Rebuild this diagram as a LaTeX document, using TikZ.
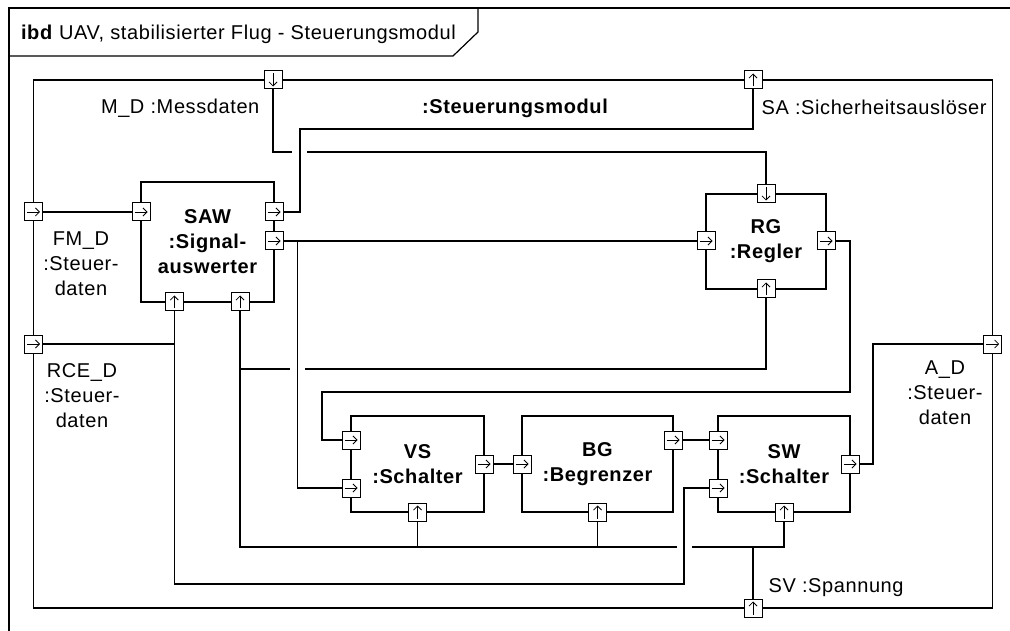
\documentclass[tikz,border=0pt]{standalone}
\usepackage{fontspec}
\setmainfont{Liberation Sans}[LetterSpace=3]
\usetikzlibrary{positioning,arrows.meta}
\newcommand\portR[2]{\node[port] (#1) at (#2) {}; \draw[pin] (#1.west) -- (#1.east);}
\newcommand\portU[2]{\node[port] (#1) at (#2) {}; \draw[pin] (#1.south) -- (#1.north);}
\newcommand\portD[2]{\node[port] (#1) at (#2) {}; \draw[pin] (#1.north) -- (#1.south);}

\begin{document}
\begin{tikzpicture}[x=1pt,y=-1pt,line width=1.2pt,font=\fontsize{20}{25}\selectfont,
 block/.style={draw,align=center,inner sep=0pt,font=\fontsize{20}{25}\selectfont\bfseries},
 port/.style={draw,fill=white,minimum size=18pt,inner sep=0pt,line width=1pt},
 pin/.style={-{Straight Barb[length=4pt,width=8pt]},line width=.8pt,shorten <=3pt,shorten >=3pt},
 lbl/.style={inner sep=0pt,align=center}]
\useasboundingbox (0,0) rectangle (1010,631);
% frame and header
\draw (9,631) -- (9,8) -- (1010,8);
\draw (9,56) -- (453,56) -- (478,32) -- (478,8);
\node[lbl,anchor=base west] (title) at (20.5,39.3) {\textbf{ibd} UAV, stabilisierter Flug - Steuerungsmodul};
\node[draw,line width=1.3pt,minimum width=959.2pt,minimum height=528pt] (sm) at (513.1,344) {};
% parts
\node[block,minimum width=133pt,minimum height=120pt] (saw) at (207.5,242) {SAW\\:Signal-\\auswerter};
\node[block,minimum width=120pt,minimum height=95pt] (rg) at (766,241.5) {RG\\:Regler};
\node[block,minimum width=133pt,minimum height=96pt] (vs) at (417.5,464) {VS\\:Schalter};
\node[block,minimum width=151pt,minimum height=96pt] (bg) at (597.5,464) {BG\\:Begrenzer};
\node[block,minimum width=132pt,minimum height=96pt] (sw) at (784,464) {SW\\:Schalter};
% labels
\node[lbl,anchor=north east] (mdlbl) at (260,98.5) {M\_D :Messdaten};
\node[lbl,anchor=north,font=\fontsize{20}{25}\selectfont\bfseries] (smlbl) at (515,98.5) {:Steuerungsmodul};
\node[lbl,anchor=north west] (salbl) at (761,99) {SA :Sicherheitsauslöser};
\node[lbl,anchor=north] (fmdlbl) at (81,231.5) {FM\_D\\:Steuer-\\daten};
\node[lbl,anchor=north] (rcedlbl) at (82,363.3) {RCE\_D\\:Steuer-\\daten};
\node[lbl,anchor=north] (adlbl) at (945,360) {A\_D\\:Steuer-\\daten};
\node[lbl,anchor=north west] (svlbl) at (768,578) {SV :Spannung};
% bends and gaps
\coordinate (mdL) at (292,152); \coordinate (mdR) at (307,152);
\coordinate (saJ) at (300,129); \coordinate (vsJ) at (297.7,241);
\coordinate (rgR) at (305,369); \coordinate (rgL) at (290,369); \coordinate (pwJ) at (240,369);
\coordinate (busL) at (677,547); \coordinate (busR) at (692,547);
\coordinate (rcJ) at (684,584); \coordinate (rvJ1) at (850,392); \coordinate (rvJ2) at (322,392);
\coordinate (adJ) at (873,344);
% ports
\portD{md}{273,80} \portU{sa}{753,80} \portR{fmd}{33.5,212} \portR{rced}{33.5,344}
\portR{ad}{992.7,344} \portU{sv}{753,608}
\portR{sawin}{141,212} \portR{sawout1}{274,212} \portR{sawout2}{274,241}
\portU{sawbot1}{174.3,302} \portU{sawbot2}{240,302}
\portD{rgtop}{766,194} \portR{rgin}{706,241} \portR{rgout}{826,241} \portU{rgbot}{766,289}
\portR{vsin1}{351,440} \portR{vsin2}{351,488} \portR{vsout}{484,464} \portU{vsbot}{417.5,512}
\portR{bgin}{522,464} \portR{bgout}{673,440} \portU{bgbot}{597.5,512}
\portR{swin1}{718,440} \portR{swin2}{718,488} \portR{swout}{850,464} \portU{swbot}{784,512}
% connectors
\draw (fmd) -- (sawin);
\draw (md) |- (mdL); \draw (mdR) -| (rgtop);
\draw (sawout1) -| (saJ) -| (sa);
\draw (sawout2) -- (rgin);
\draw (vsJ) |- (vsin2);
\draw (rgbot) |- (rgR); \draw (rgL) -- (pwJ);
\draw (sawbot2) |- (busL); \draw (busR) -| (swbot);
\draw (vsbot) -- (vsbot |- busL); \draw (bgbot) -- (bgbot |- busL); \draw (sv) -- (sv |- busL);
\draw (rced) -| (sawbot1);
\draw (sawbot1) |- (rcJ) |- (swin2);
\draw (rgout) -| (rvJ1) -- (rvJ2) |- (vsin1);
\draw (vsout) -- (bgin);
\draw (bgout) -- (swin1);
\draw (swout) -| (adJ) -- (ad);
\end{tikzpicture}
\end{document}
